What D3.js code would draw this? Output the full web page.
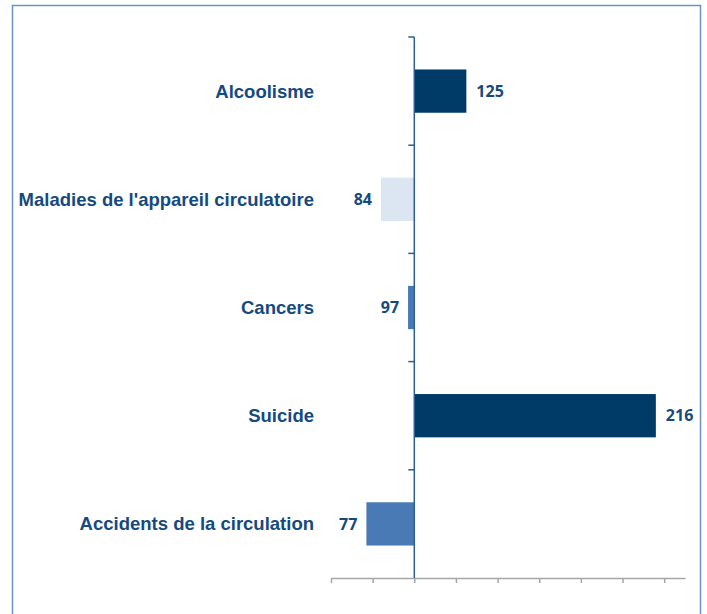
<!DOCTYPE html>
<html>
<head>
<meta charset="utf-8">
<script src="https://cdn.jsdelivr.net/npm/d3@7"></script>
<style>
  body { margin: 0; background: #fff; }
  svg { display: block; }
</style>
</head>
<body>
<svg id="chart" width="707" height="614"></svg>
<script>
// data
var categories = ["Alcoolisme", "Maladies de l'appareil circulatoire", "Cancers", "Suicide", "Accidents de la circulation"];
var values = [125, 84, 97, 216, 77];
var barColors = ["#003a66", "#dce6f2", "#4a7ab5", "#003a66", "#4a7ab5"];
var xTicks = [60, 80, 100, 120, 140, 160, 180, 200, 220];
var baseline = 100;

var svg = d3.select("#chart");

// frame
svg.append("rect")
    .attr("x", 12.5).attr("y", 5.5)
    .attr("width", 688).attr("height", 640)
    .attr("fill", "none")
    .attr("stroke", "#6b93c4")
    .attr("stroke-width", 1.5);

var x = d3.scaleLinear().domain([60, 230]).range([331, 685]);
var y = d3.scaleBand().domain(categories).range([37, 578]).paddingInner(0.6).paddingOuter(0.3);
var yEdge = d3.scaleLinear().domain([0, categories.length]).range([37, 578]);

// bottom axis
var xAxis = svg.append("g")
    .attr("transform", "translate(0,578)")
    .call(d3.axisBottom(x).tickValues(xTicks).tickSize(5).tickSizeOuter(0).tickFormat(""));
xAxis.select(".domain").attr("stroke", "#a6a6a6").attr("stroke-width", 1.5);
xAxis.selectAll(".tick line").attr("stroke", "#a6a6a6").attr("stroke-width", 1.5);

// bars
svg.selectAll(".bar")
    .data(values)
    .enter()
    .append("rect")
    .attr("class", "bar")
    .attr("x", function (d) { return x(Math.min(d, baseline)); })
    .attr("y", function (d, i) { return y(categories[i]); })
    .attr("width", function (d) { return Math.abs(x(d) - x(baseline)); })
    .attr("height", y.bandwidth())
    .attr("fill", function (d, i) { return barColors[i]; });

// vertical axis at baseline
var yAxis = svg.append("g");
yAxis.append("line")
    .attr("x1", x(baseline)).attr("x2", x(baseline))
    .attr("y1", yEdge(0)).attr("y2", yEdge(categories.length))
    .attr("stroke", "#2c5f97").attr("stroke-width", 1.5);
yAxis.selectAll(".ytick")
    .data(d3.range(categories.length))
    .enter()
    .append("line")
    .attr("class", "ytick")
    .attr("x1", x(baseline) - 6).attr("x2", x(baseline))
    .attr("y1", function (d) { return yEdge(d); })
    .attr("y2", function (d) { return yEdge(d); })
    .attr("stroke", "#2c5f97").attr("stroke-width", 1.5);

// category labels
svg.selectAll(".cat")
    .data(categories)
    .enter()
    .append("text")
    .attr("class", "cat")
    .attr("x", 314)
    .attr("y", function (d) { return y(d) + y.bandwidth() / 2; })
    .attr("dy", "0.35em")
    .attr("text-anchor", "end")
    .attr("font-family", "'Liberation Sans', Arial, sans-serif")
    .attr("font-weight", "bold")
    .attr("font-size", "18.5px")
    .attr("fill", "#154a7f")
    .text(function (d) { return d; });

// value labels
svg.selectAll(".val")
    .data(values)
    .enter()
    .append("text")
    .attr("class", "val")
    .attr("x", function (d) { return d >= baseline ? x(d) + 10 : x(d) - 9; })
    .attr("y", function (d, i) { return y(categories[i]) + y.bandwidth() / 2; })
    .attr("dy", "0.36em")
    .attr("text-anchor", function (d) { return d >= baseline ? "start" : "end"; })
    .attr("font-family", "'Open Sans', sans-serif")
    .attr("font-weight", "bold")
    .attr("font-size", "16px")
    .attr("fill", "#154a7f")
    .text(function (d) { return d; });
</script>
</body>
</html>
